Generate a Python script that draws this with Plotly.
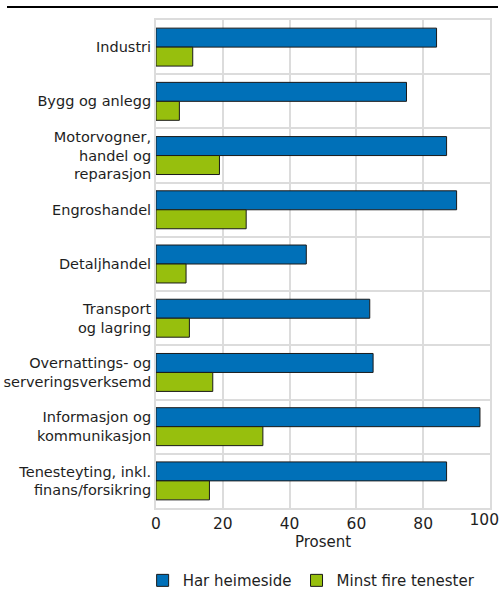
import plotly.graph_objects as go

categories = ["Industri", "Bygg og anlegg", "Motorvogner,<br>handel og<br>reparasjon", "Engroshandel",
              "Detaljhandel", "Transport<br>og lagring", "Overnattings- og<br>serveringsverksemd",
              "Informasjon og<br>kommunikasjon", "Tenesteyting, inkl.<br>finans/forsikring"]
har_heimeside = [84, 75, 87, 90, 45, 64, 65, 97, 87]
minst_fire = [11, 7, 19, 27, 9, 10, 17, 32, 16]
x_ticks = [0, 20, 40, 60, 80, 100]
x_ticktext = ["0", "20", "40", "60", "80", ""]
x_last_tick = [100]
x_last_text = ["100"]

BLUE = "#0070b8"
GREEN = "#97bf0d"
FONT = "DejaVu Sans"
TXT = "#1e1e1e"

fig = go.Figure()
fig.add_trace(go.Bar(y=categories, x=har_heimeside, orientation="h", name="Har heimeside",
                     marker=dict(color=BLUE, line=dict(color="#1a1a1a", width=1))))
fig.add_trace(go.Bar(y=categories, x=minst_fire, orientation="h", name="Minst fire tenester",
                     marker=dict(color=GREEN, line=dict(color="#1a1a1a", width=1))))
# empty helper trace so that the overlay axis (carrying the "100" label) is drawn
fig.add_trace(go.Scatter(x=[], y=[], xaxis="x2", yaxis="y", mode="markers",
                         showlegend=False, hoverinfo="skip"))

fig.update_layout(
    width=501, height=598,
    margin=dict(l=156, r=11, t=20, b=90, autoexpand=False),
    paper_bgcolor="white", plot_bgcolor="white",
    font=dict(family=FONT, size=15, color=TXT),
    barmode="group", bargap=0.3, bargroupgap=0,
    showlegend=True,
    legend=dict(orientation="h", x=-0.04, xanchor="left", y=-0.115, yanchor="top",
                font=dict(size=15, color=TXT), itemwidth=30, traceorder="normal"),
    xaxis=dict(range=[0, 100], tickvals=x_ticks, ticktext=x_ticktext, showgrid=True,
               gridcolor="#dcdcdc", gridwidth=2, automargin=False, ticklabeloverflow="allow",
               zeroline=False, showline=True, linecolor="#dcdcdc", linewidth=2, mirror=True,
               ticks="", tickfont=dict(size=15.5, color=TXT),
               title=dict(text="Prosent", font=dict(size=15, color=TXT), standoff=2)),
    xaxis2=dict(range=[0, 100], overlaying="x", anchor="y", side="bottom", tickvals=x_last_tick,
                ticktext=x_last_text, showgrid=False, showline=False, zeroline=False, ticks="",
                ticklabelposition="outside left", ticklabelshift=9, automargin=False,
                ticklabeloverflow="allow", tickfont=dict(size=15.5, color=TXT)),
    yaxis=dict(autorange="reversed", type="category", categoryorder="array",
               categoryarray=categories, tickson="boundaries", showgrid=True,
               gridcolor="#dcdcdc", gridwidth=2, showline=True, linecolor="#dcdcdc", linewidth=2,
               mirror=True, ticks="", tickfont=dict(size=14.5, color=TXT), automargin=False,
               ticklabeloverflow="allow"),
    shapes=[dict(type="line", xref="paper", yref="paper", x0=-149/334, x1=1 + 8/334,
                 y0=1 + 13/488, y1=1 + 13/488, line=dict(color="black", width=2))],
)

fig.write_html("out.html", config={"displayModeBar": False},
               post_script="document.body.style.margin='0';document.body.style.overflow='hidden';")
